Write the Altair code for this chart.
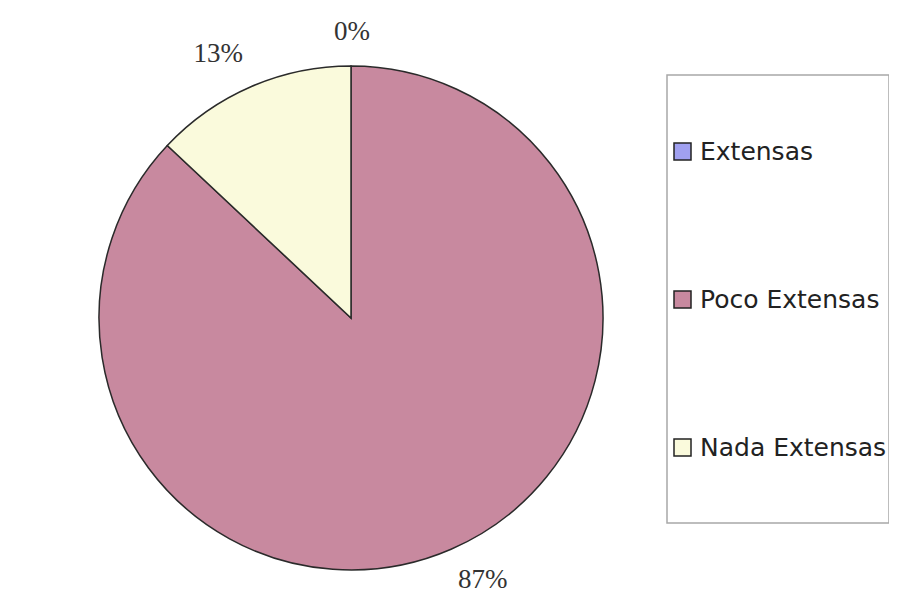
import altair as alt
import pandas as pd

categories = ["Extensas", "Poco Extensas", "Nada Extensas"]
values = [0, 87, 13]
labels = ["0%", "87%", "13%"]
colors = ["#a0a0f0", "#c8899f", "#fafadc"]

df = pd.DataFrame({
    "cat": categories,
    "val": values,
    "lab": labels,
    "ord": list(range(len(categories))),
})

CX, CY, R = 343, 310, 252
theta_scale = alt.Scale(domain=[0, 100])

pie = alt.Chart(df).mark_arc(radius=R, stroke="#2a2a2a", strokeWidth=1.5).encode(
    theta=alt.Theta("val:Q", stack=True, scale=theta_scale),
    order=alt.Order("ord:Q"),
    x=alt.value(CX),
    y=alt.value(CY),
    color=alt.Color(
        "cat:N",
        scale=alt.Scale(domain=categories, range=colors),
        sort=categories,
        legend=alt.Legend(
            title=None,
            orient="none",
            legendX=662,
            legendY=131,
            symbolType="square",
            symbolSize=289,
            symbolStrokeColor="#222222",
            symbolStrokeWidth=1.5,
            labelFont="DejaVu Sans",
            labelFontSize=25,
            labelColor="#222222",
            labelLimit=300,
            labelOffset=5,
            rowPadding=122,
            padding=0,
        ),
    ),
)

label_base = alt.Chart(df).transform_window(
    cum="sum(val)", sort=[alt.SortField("ord")], frame=[None, 0]
).transform_calculate(
    mid="datum.cum - datum.val / 2"
)


def label_layer(cat, align, dx, dy):
    return label_base.transform_filter(alt.datum.cat == cat).mark_text(
        radius=R + 10, font="Liberation Serif", fontSize=27, color="#333333",
        align=align, baseline="middle", dx=dx, dy=dy,
    ).encode(
        theta=alt.Theta("mid:Q", stack=None, scale=theta_scale),
        x=alt.value(CX),
        y=alt.value(CY),
        text="lab:N",
    )


texts = [
    label_layer("Extensas", "center", 1, -24),
    label_layer("Poco Extensas", "left", 3, 22),
    label_layer("Nada Extensas", "right", -4, -24),
]

frame = alt.Chart(pd.DataFrame({"a": [0]})).mark_rect(
    fill=None, stroke="#a8a8a8", strokeWidth=1.5
).encode(
    x=alt.value(659), x2=alt.value(881), y=alt.value(67), y2=alt.value(515)
)

chart = alt.layer(frame, pie, *texts).properties(
    width=881, height=586, padding=0, autosize="none", background="white"
).configure_view(stroke=None)

chart.save("out.html", embed_options={"renderer": "svg", "actions": False})
